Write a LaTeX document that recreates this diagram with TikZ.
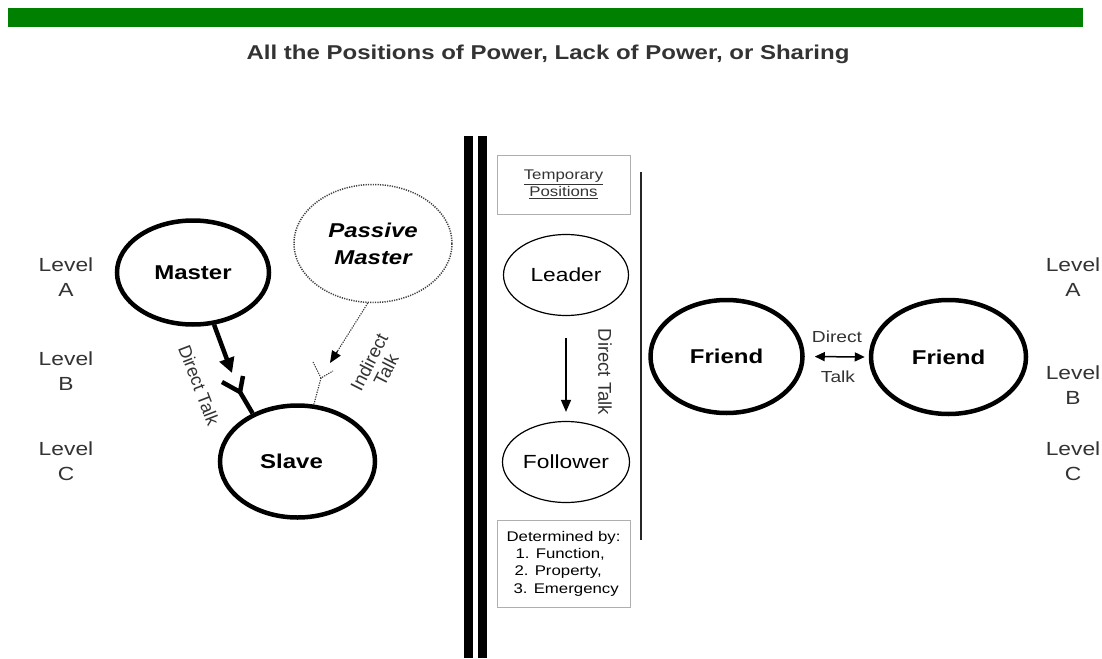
\documentclass[tikz,border=0pt]{standalone}
\usepackage{fontspec}
\setmainfont{Liberation Sans}[FakeStretch=1.2]
\newfontfamily\rotfont{Liberation Sans}
\usetikzlibrary{shapes.geometric,arrows.meta,calc}
\definecolor{bargreen}{RGB}{0,128,0}
\definecolor{txt}{RGB}{51,51,51}
\definecolor{boxgray}{RGB}{175,175,175}
\begin{document}
\begin{tikzpicture}[x=1pt,y=-1pt,
  thickell/.style={ellipse, draw, line width=4.5pt, inner sep=0pt, text=black,
    font=\fontsize{20}{26}\selectfont\bfseries},
  thinell/.style={ellipse, draw, line width=1.2pt, inner sep=0pt, text=black,
    font=\fontsize{19}{23}\selectfont},
  lvl/.style={align=center, text=txt, font=\fontsize{19}{25}\selectfont},
  gbox/.style={draw=boxgray, line width=1pt, inner sep=0pt, fill=white},
  rottxt/.style={text=txt, inner sep=0pt},
  bigtip/.style={-{Triangle[length=15pt,width=15pt]}},
  dotline/.style={line width=1.1pt, draw=black!80, dash pattern=on 1.2pt off 1.2pt},
]
\fill[white] (0,0) rectangle (1102,658);
\useasboundingbox (0,0) rectangle (1102,658);

% header
\fill[bargreen] (8,8) rectangle (1083,27);
\node[text=txt, font=\fontsize{20}{24}\selectfont\bfseries] (title) at (548,54)
  {All the Positions of Power, Lack of Power, or Sharing};

% level labels
\node[lvl] (lA) at (66,277) {Level\\A};
\node[lvl] (lB) at (66,371) {Level\\B};
\node[lvl] (lC) at (66,461.5) {Level\\C};
\node[lvl] (rA) at (1073,277) {Level\\A};
\node[lvl] (rB) at (1073,385) {Level\\B};
\node[lvl] (rC) at (1073,461.5) {Level\\C};

% left part
\node[thickell, minimum width=152pt, minimum height=104pt] (master) at (193,272.5) {Master};
\node[thickell, minimum width=155pt, minimum height=112pt] (slave) at (297.5,461.5) {Slave\hspace*{12pt}};
\node[ellipse, draw=black!75, line width=1.5pt, dash pattern=on 1.2pt off 1.2pt,
  inner sep=0pt, minimum width=158pt, minimum height=118pt, align=center,
  font=\fontsize{20}{27}\selectfont\bfseries\itshape] (passive) at (373,243.5) {Passive\\Master};

\coordinate (rx1) at (232,373);
\draw[line width=4.5pt, bigtip] (master.-68) -- (rx1);
\coordinate (yj) at (240,392);
\coordinate (ya1) at (222,382);
\coordinate (ya2) at (243,376);
\draw[line width=4.5pt] (slave.133) -- (yj);
\draw[line width=4.5pt] (ya1) -- (yj) -- (ya2);

\coordinate (ix1) at (330,363);
\draw[dotline] (passive.-95) -- ($(passive.-95)!0.85!(ix1)$);
\draw[line width=1pt, -{Triangle[length=12pt,width=10pt]}] ($(passive.-95)!0.8!(ix1)$) -- (ix1);
\coordinate (iyj) at (321,378);
\coordinate (iya1) at (313,362);
\coordinate (iya2) at (333,371);
\draw[dotline] (slave.74) -- (iyj);
\draw[dotline] (iya1) -- (iyj) -- (iya2);

\node[rottxt, rotate=-69, font=\rotfont\fontsize{18}{20}\selectfont] (dtl) at (199,385) {Direct Talk};
\node[rottxt, rotate=63, font=\rotfont\fontsize{18.5}{20}\selectfont] (itl1) at (369,362) {Indirect};
\node[rottxt, rotate=63, font=\rotfont\fontsize{18.5}{20}\selectfont] (itl2) at (386,370) {Talk};

% separator
\fill[black] (464,136) rectangle (472.5,658);
\fill[black] (478,136) rectangle (487,658);

% middle part
\node[gbox, minimum width=133pt, minimum height=59pt, align=center, text=txt,
  font=\fontsize{14}{17}\selectfont] (temp) at (563.5,184.5) {\underline{Temporary}\\\underline{Positions}};
\node[thinell, minimum width=125pt, minimum height=81pt] (leader) at (566,275) {Leader};
\node[thinell, minimum width=127pt, minimum height=81pt] (follower) at (566,462) {Follower};
\draw[line width=1.4pt, -{Triangle[length=12pt,width=10pt]}, shorten <=22pt, shorten >=9pt]
  (leader) -- (follower);
\node[rottxt, rotate=-90, font=\rotfont\fontsize{18.5}{20}\selectfont] (dtm) at (605,372) {Direct Talk};
\node[gbox, minimum width=133pt, minimum height=87pt, align=left, text=black,
  font=\fontsize{14}{17.3}\selectfont] (det) at (563.5,563.5)
  {Determined by:\\\hspace*{9pt}1. Function,\\\hspace*{8pt}2. Property,\\\hspace*{7pt}3. Emergency};
\coordinate (vt) at (641,172);
\coordinate (vb) at (641,540);
\draw[line width=1.5pt, black!85] (vt) -- (vb);

% right part
\node[thickell, minimum width=152pt, minimum height=113pt] (f1) at (726.5,356.5) {Friend};
\node[thickell, minimum width=155pt, minimum height=114pt] (f2) at (948.5,357) {Friend};
\draw[line width=1.5pt, {Triangle[length=10pt,width=9pt]}-{Triangle[length=10pt,width=9pt]},
  shorten <=10pt, shorten >=4pt] (f1.east) -- (f2.west);
\node[text=txt, font=\fontsize{16}{18}\selectfont] (fd) at (837,337) {Direct};
\node[text=txt, font=\fontsize{16}{18}\selectfont] (ft) at (838,377) {Talk};
\end{tikzpicture}
\end{document}
